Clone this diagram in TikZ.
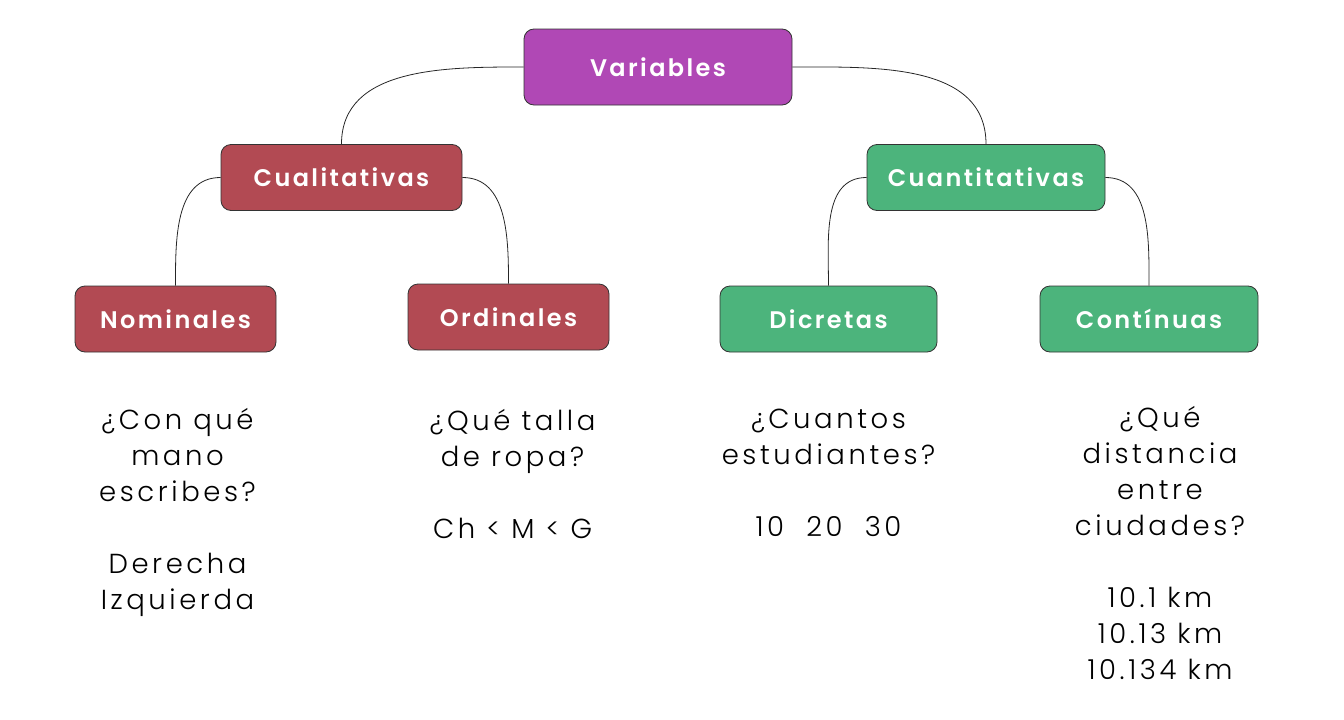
\documentclass[tikz,border=0pt]{standalone}
\usepackage{fontspec}
\newfontfamily\boxfont{Poppins SemiBold}[LetterSpace=10]
\newfontfamily\notefont{Poppins Light}[LetterSpace=13]
\usetikzlibrary{%
	positioning
}
\definecolor{varpurple}{HTML}{B048B5}
\definecolor{cualred}{HTML}{B24A53}
\definecolor{cuantgreen}{HTML}{4CB47C}

\begin{document}
\begin{tikzpicture}[
		SBox/.style={draw=black!80,line width=.8pt,rounded corners=10pt,text=white,font=\boxfont\fontsize{24}{28}\selectfont,minimum height=66pt,inner sep=0pt},
		note/.style={align=center,inner sep=0pt,font=\notefont\fontsize{27.5}{36}\selectfont},
		link/.style={draw=black!85,line width=.8pt}
	]
	
		\useasboundingbox (0,0) rectangle (1344pt,-720pt);
		
		%top
		\node(Var) [SBox, fill=varpurple, minimum width=268pt, minimum height=76pt] at (658pt,-67pt) {Variables};
		
		%second row
		\node(Cual) [SBox, fill=cualred, minimum width=241pt] at (341.5pt,-177.5pt) {Cualitativas};
		\node(Cuant) [SBox, fill=cuantgreen, minimum width=238pt, right=646pt of Cual.west, anchor=west] {Cuantitativas};
		\draw [link] (Var.west) to [out=180,in=90] (Cual.north);
		\draw [link] (Var.east) to [out=0,in=90] (Cuant.north);
		
		%third row
		\node(Nom) [SBox, fill=cualred, minimum width=201pt] at (175.5pt,-319pt) {Nominales};
		\node(Ord) [SBox, fill=cualred, minimum width=201pt, right=333pt of Nom.west, anchor=west, yshift=2pt] {Ordinales};
		\node(Dis) [SBox, fill=cuantgreen, minimum width=217pt, right=645pt of Nom.west, anchor=west] {Dicretas};
		\node(Cont) [SBox, fill=cuantgreen, minimum width=218pt, right=965pt of Nom.west, anchor=west] {Contínuas};
		\draw [link] (Cual.west) to [out=180,in=90] (Nom.north);
		\draw [link] (Cual.east) to [out=0,in=90] (Ord.north);
		\draw [link] (Cuant.west) to [out=180,in=90] (Dis.north);
		\draw [link] (Cuant.east) to [out=0,in=90] (Cont.north);
		
		%examples
		\node(nNom) [note, below=56pt of Nom.south, anchor=north, xshift=2pt] {¿Con qué\\mano\\escribes?\\[36pt]Derecha\\Izquierda};
		\node(nOrd) [note, below=59pt of Ord.south, anchor=north, xshift=4pt] {¿Qué talla\\de ropa?\\[36pt]Ch < M < G};
		\node(nDis) [note, below=56pt of Dis.south, anchor=north] {¿Cuantos\\estudiantes?\\[36pt]10~ 20~ 30};
		\node(nCont) [note, below=54pt of Cont.south, anchor=north, xshift=11pt] {¿Qué\\distancia\\entre\\ciudades?\\[36pt]10.1 km\\10.13 km\\10.134 km};
		
	\end{tikzpicture}
\end{document}
